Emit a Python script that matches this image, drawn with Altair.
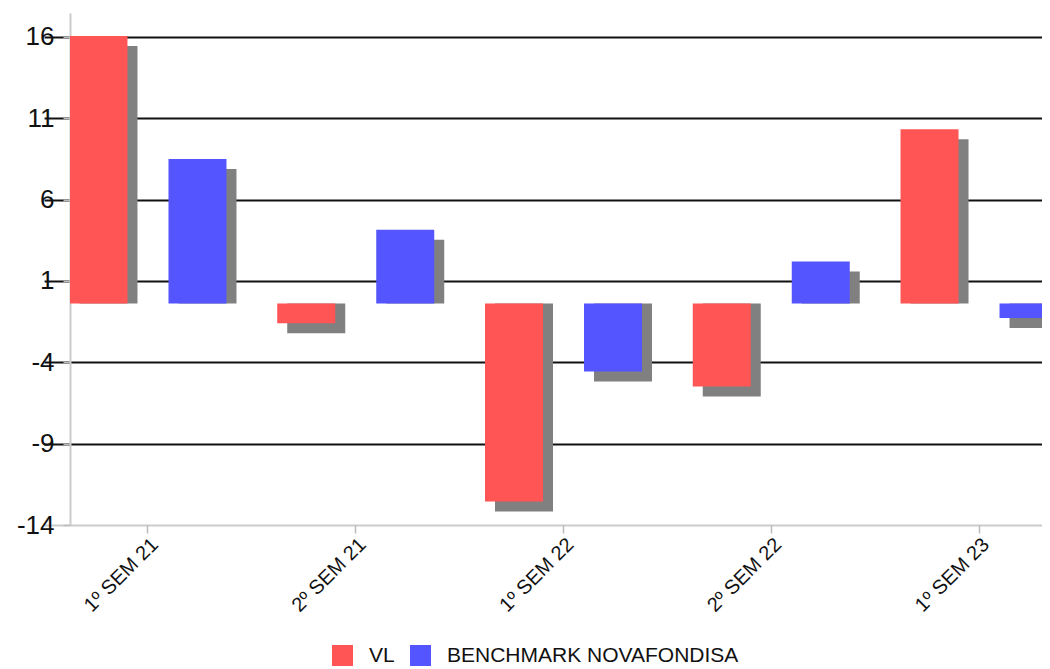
import altair as alt
import pandas as pd

SEMESTERS = ["1º SEM 21", "2º SEM 21", "1º SEM 22", "2º SEM 22", "1º SEM 23"]
VL = [16.44, -1.22, -12.18, -5.11, 10.71]
BENCH = [8.87, 4.52, -4.19, 2.57, -0.89]
SERIES = ["VL", "BENCHMARK NOVAFONDISA"]
COLORS = ["#ff5555", "#5555ff"]
Y_TICKS = [-13.62, -8.62, -3.62, 1.38, 6.38, 11.38, 16.38]
Y_DOMAIN = [-13.62, 17.85]

rows = []
for sem, v, b in zip(SEMESTERS, VL, BENCH):
    rows.append({"semester": sem, "series": SERIES[0], "value": v})
    rows.append({"semester": sem, "series": SERIES[1], "value": b})
df = pd.DataFrame(rows)

FONT = "Liberation Sans"

x_enc = alt.X(
    "semester:N",
    sort=SEMESTERS,
    title=None,
    scale=alt.Scale(range=[-25.9, 1012.9], paddingInner=0, paddingOuter=0),
    axis=alt.Axis(
        domain=False,
        tickColor="#bbbbbb",
        tickSize=8,
        tickWidth=1.5,
        labelAngle=-45,
        labelAlign="right",
        labelBaseline="top",
        labelFont=FONT,
        labelFontSize=20,
        labelColor="#111111",
        labelPadding=1,
        grid=False,
    ),
)
y_enc = alt.Y(
    "value:Q",
    title=None,
    scale=alt.Scale(domain=Y_DOMAIN, nice=False, zero=False),
    axis=alt.Axis(
        values=Y_TICKS,
        labelExpr="toString(round(datum.value))",
        labelFont=FONT,
        labelFontSize=26,
        labelColor="#111111",
        labelPadding=9,
        domainColor="#cccccc",
        domainWidth=2,
        tickColor="#bbbbbb",
        tickSize=7,
        tickWidth=1.5,
        grid=True,
        gridWidth=2,
        gridColor={"condition": {"test": "datum.value < -13", "value": "#cccccc"}, "value": "#111111"},
    ),
)

color_enc = alt.Color(
    "series:N",
    scale=alt.Scale(domain=SERIES, range=COLORS),
    legend=alt.Legend(
        title=None,
        orient="none",
        legendX=262,
        legendY=632,
        direction="horizontal",
        symbolType="square",
        symbolSize=441,
        symbolStrokeWidth=0,
        labelFont=FONT,
        labelFontSize=21,
        labelColor="#111111",
        labelOffset=16,
        labelLimit=0,
        columnPadding=15,
        padding=0,
    ),
)

base = alt.Chart(df)
BAR_W = 58
OFF = 49.5
SH = 10


def layer_for(series, dx, shadow):
    data = base.transform_filter(alt.datum.series == series)
    if shadow:
        return data.mark_bar(
            color="#808080", width=BAR_W, xOffset=dx + SH, yOffset=SH, y2Offset=0, clip=True
        ).encode(x=x_enc, y=y_enc, y2=alt.datum(0))
    return data.mark_bar(width=BAR_W, xOffset=dx, clip=True).encode(
        x=x_enc, y=y_enc, y2=alt.datum(0), color=color_enc
    )


chart = alt.layer(
    layer_for(SERIES[0], -OFF, True),
    layer_for(SERIES[1], OFF, True),
    layer_for(SERIES[0], -OFF, False),
    layer_for(SERIES[1], OFF, False),
).properties(
    width=972,
    height=512,
    autosize=alt.AutoSizeParams(type="none"),
    padding={"left": 62, "top": 5, "right": 0, "bottom": 144},
).configure_view(stroke=None)

chart.save("out.html", embed_options={"renderer": "svg", "actions": False})
